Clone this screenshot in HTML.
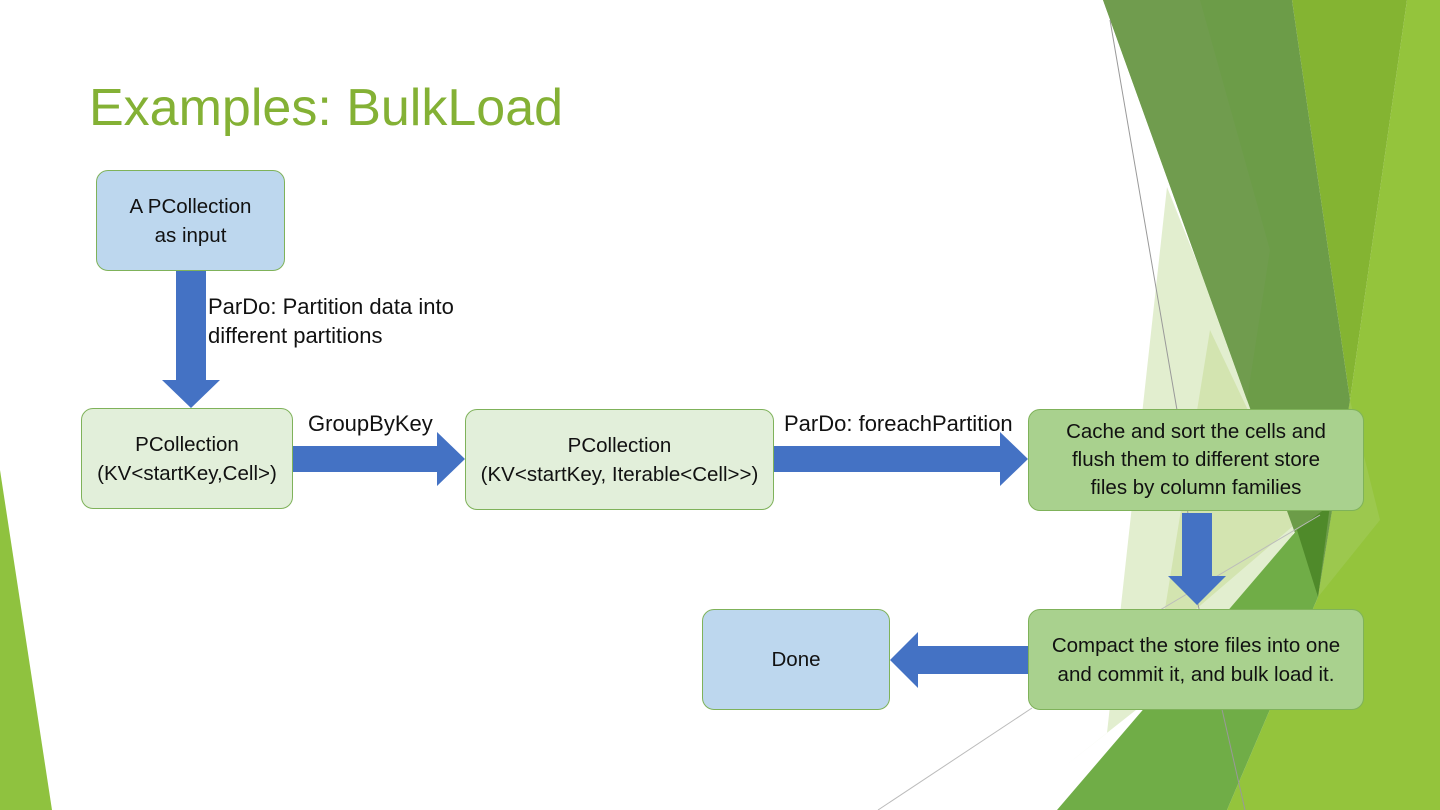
<!DOCTYPE html>
<html><head><style>
body{margin:0;width:1440px;height:810px;overflow:hidden;background:#fff;font-family:"Liberation Sans",sans-serif;position:relative}
.b{position:absolute;box-sizing:border-box;border:1.5px solid #7fb25a;border-radius:12px;display:flex;align-items:center;justify-content:center;text-align:center;font-size:20.5px;line-height:29px;color:#111;white-space:nowrap}
.bl{background:#bdd7ee}.lg{background:#e2efda}.g{background:#a9d18e}
.t{position:absolute;font-size:22px;line-height:29px;color:#111;white-space:nowrap}
</style></head><body>
<svg width="1440" height="810" style="position:absolute;left:0;top:0">
<polygon points="0,470 52,810 0,810" fill="#8fc23f"/>
<polygon points="1167,187 1300,520 1250,620 1060,770 1107,733" fill="#e2eecf"/>
<polygon points="1210,330 1300,520 1160,640" fill="#d3e4b0"/>
<polygon points="1407,0 1440,0 1440,810 1227,810 1318,597 1350,400" fill="#94c43c"/>
<polygon points="1350,400 1380,520 1318,597" fill="#9cc84e"/>
<polygon points="1292,0 1407,0 1350,400" fill="#84b432"/>
<polygon points="1103,0 1292,0 1350,400 1318,597" fill="#6c9c48"/>
<polygon points="1103,0 1200,0 1270,250 1247,400" fill="#709c4e"/>
<polygon points="1057,810 1297,530 1318,597 1227,810" fill="#70ad47"/>
<polygon points="1297,530 1330,505 1318,597" fill="#4f8a2a"/>
<polyline points="1110,20 1177,410 1197,600 1245,810" fill="none" stroke="#999" stroke-width="1"/>
<line x1="1032" y1="708" x2="878" y2="810" stroke="#bbb" stroke-width="1"/>
<line x1="1160" y1="610" x2="1320" y2="515" stroke="#bbb" stroke-width="1"/>
<g fill="#4472c4">
<polygon points="176,270 206,270 206,380 220,380 191,408 162,380 176,380"/>
<polygon points="293,446 437,446 437,432 465,459 437,486 437,472 293,472"/>
<polygon points="774,446 1000,446 1000,432 1028,459 1000,486 1000,472 774,472"/>
<polygon points="1182,513 1212,513 1212,576 1226,576 1197,605 1168,576 1182,576"/>
<polygon points="1028,646 918,646 918,632 890,660 918,688 918,674 1028,674"/>
</g>
</svg>
<div style="position:absolute;left:89px;top:78px;font-size:52px;color:#84b135;white-space:nowrap">Examples: BulkLoad</div>
<div class="b bl" style="left:96px;top:170px;width:189px;height:101px">A PCollection<br>as input</div>
<div class="t" style="left:208px;top:292px">ParDo: Partition data into<br>different partitions</div>
<div class="b lg" style="left:81px;top:408px;width:212px;height:101px">PCollection<br>(KV&lt;startKey,Cell&gt;)</div>
<div class="t" style="left:308px;top:409px">GroupByKey</div>
<div class="b lg" style="left:465px;top:409px;width:309px;height:101px">PCollection<br>(KV&lt;startKey, Iterable&lt;Cell&gt;&gt;)</div>
<div class="t" style="left:784px;top:409px">ParDo: foreachPartition</div>
<div class="b g" style="left:1028px;top:409px;width:336px;height:102px;line-height:28px">Cache and sort the cells and<br>flush them to different store<br>files by column families</div>
<div class="b g" style="left:1028px;top:609px;width:336px;height:101px">Compact the store files into one<br>and commit it, and bulk load it.</div>
<div class="b bl" style="left:702px;top:609px;width:188px;height:101px">Done</div>
</body></html>
